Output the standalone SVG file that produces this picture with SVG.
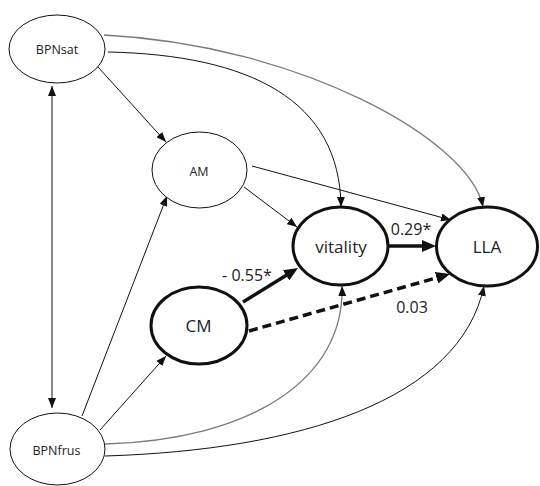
<svg xmlns="http://www.w3.org/2000/svg" width="540" height="486" viewBox="0 0 540 486">
<style>
.thin{fill:#fff;stroke:#111;stroke-width:1}
.thick{fill:#fff;stroke:#111;stroke-width:3}
.lbl{font-family:"Open Sans","Liberation Sans",sans-serif;fill:#222;text-anchor:middle}
.s{font-size:12.5px}
.b{font-size:17px}
.c{fill:none;stroke:#111;stroke-width:1}
.g{fill:none;stroke:#7a7a7a;stroke-width:1.3}
.k{fill:none;stroke:#111;stroke-width:3.5}
.num{font-family:"Open Sans","Liberation Sans",sans-serif;font-size:16px;fill:#222;text-anchor:middle}
</style>
<defs>
<marker id="a" markerUnits="userSpaceOnUse" markerWidth="10" markerHeight="8" refX="10" refY="4" orient="auto-start-reverse"><path d="M0,0 L10,4 L0,8 z" fill="#111"/></marker>
<marker id="A" markerUnits="userSpaceOnUse" markerWidth="14" markerHeight="12" refX="6" refY="6" orient="auto"><path d="M0,0 L14,6 L0,12 z" fill="#111"/></marker>
</defs>
<rect width="540" height="486" fill="#fff"/>
<g id="connectors">
<path class="c" d="M52,408 L52,86" marker-start="url(#a)" marker-end="url(#a)"/>
<path class="c" d="M98,67 L166,142" marker-end="url(#a)"/>
<path class="g" d="M104,35 C300,45 470,140 483,207" marker-end="url(#a)"/>
<path class="c" d="M108,52 C250,55 340,100 341,207" marker-end="url(#a)"/>
<path class="c" d="M252,166 L451,220" marker-end="url(#a)"/>
<path class="c" d="M244,187 L297,227" marker-end="url(#a)"/>
<path class="c" d="M82,416 L167,196" marker-end="url(#a)"/>
<path class="c" d="M100,430 L166,356" marker-end="url(#a)"/>
<path class="g" d="M105,444 C250,440 345,380 342,286" marker-end="url(#a)"/>
<path class="c" d="M105,456 C300,450 460,400 484,286" marker-end="url(#a)"/>
<path class="k" d="M243,302 L291.2,272.2" marker-end="url(#A)"/>
<path class="k" d="M388,246 L428,246" marker-end="url(#A)"/>
<path class="k" d="M249,331 L442.3,276.2" stroke-dasharray="9,5" marker-end="url(#A)"/>
<text class="num" x="247" y="281">- 0.55*</text>
<text class="num" x="411" y="235">0.29*</text>
<text class="num" x="412" y="313">0.03</text>
</g>
<g id="BPNsat"><ellipse class="thin" cx="57" cy="49" rx="48" ry="34"/><text class="lbl s" x="57" y="53.5">BPNsat</text></g>
<g id="AM"><ellipse class="thin" cx="199.5" cy="170" rx="47.5" ry="38"/><text class="lbl s" x="199" y="175.5">AM</text></g>
<g id="BPNfrus"><ellipse class="thin" cx="57.5" cy="449" rx="47.5" ry="36"/><text class="lbl s" x="56.5" y="455">BPNfrus</text></g>
<g id="CM"><ellipse class="thick" cx="199" cy="325.5" rx="48" ry="38.5"/><text class="lbl b" x="198.5" y="332">CM</text></g>
<g id="vitality"><ellipse class="thick" cx="340.5" cy="246" rx="47.5" ry="39"/><text class="lbl b" x="341" y="253">vitality</text></g>
<g id="LLA"><ellipse class="thick" cx="487" cy="246.5" rx="50.5" ry="39.5"/><text class="lbl b" x="487" y="253">LLA</text></g>
</svg>
